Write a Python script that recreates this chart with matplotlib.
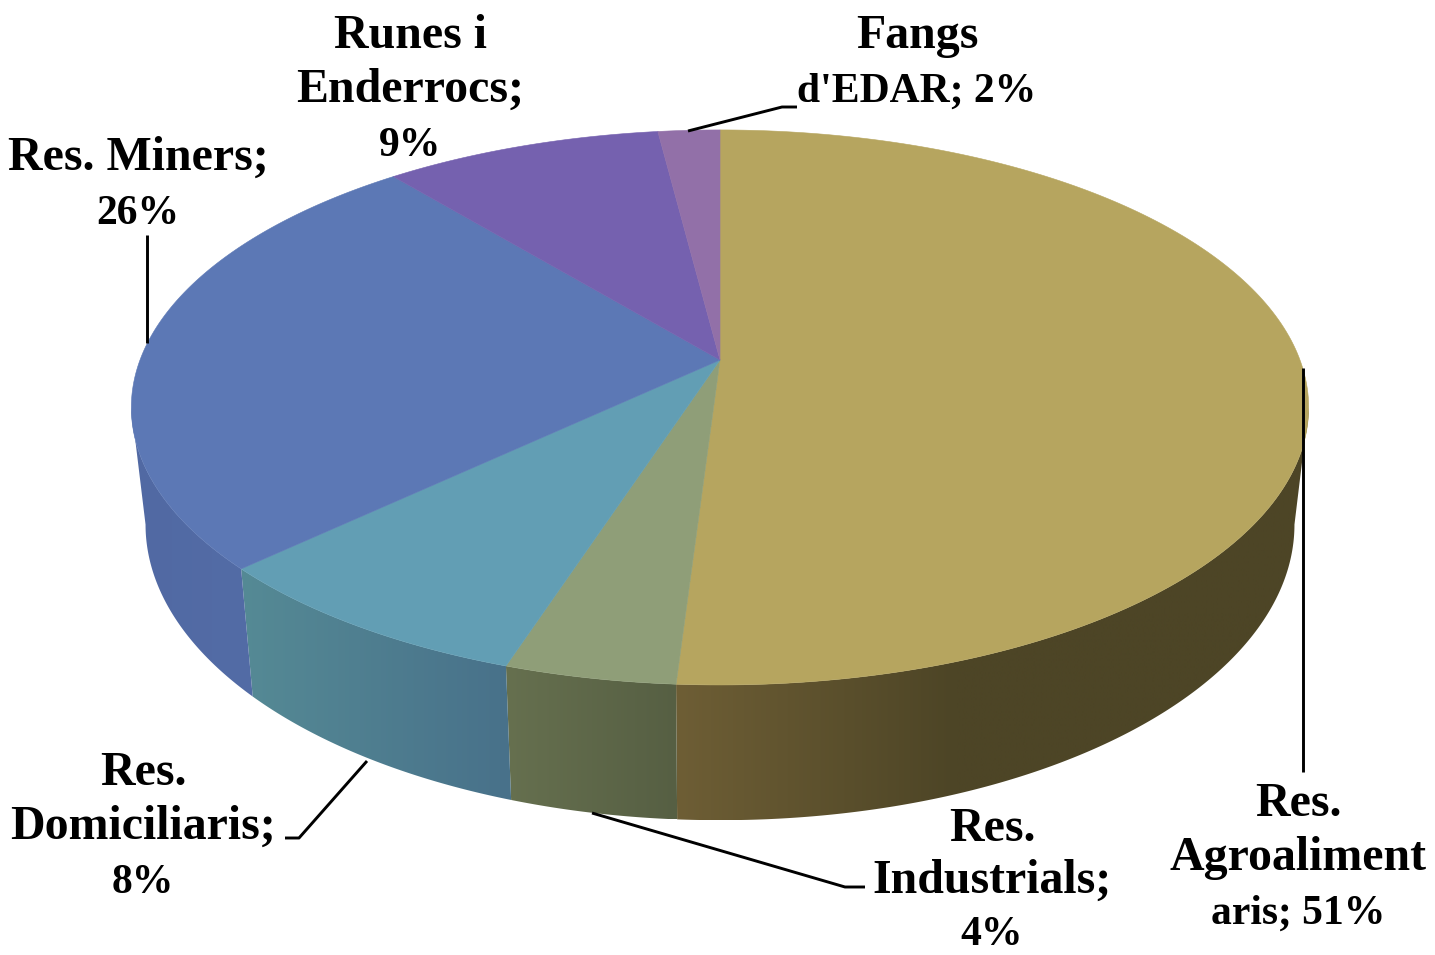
import numpy as np
import matplotlib
matplotlib.use("Agg")
import matplotlib.pyplot as plt
from matplotlib.patches import Polygon

categories = ["Res. Agroalimentaris", "Res. Industrials", "Res. Domiciliaris",
              "Res. Miners", "Runes i Enderrocs", "Fangs d'EDAR"]
values = [51, 4, 8, 26, 9, 2]
label_lines = [["Res.", "Agroaliment", "aris; {}%"],
               ["Res.", "Industrials;", "{}%"],
               ["Res.", "Domiciliaris;", "{}%"],
               ["Res. Miners;", "{}%"],
               ["Runes i", "Enderrocs;", "{}%"],
               ["Fangs", "d'EDAR; {}%"]]
top_colors = ["#B6A55F", "#8F9E78", "#629EB4", "#5C78B5", "#7561AF", "#9270A8"]
side_colors = [("#6E5E35", "#4D4526"), ("#66704F", "#565F43"), ("#558A95", "#48718A"),
               ("#5169A3", "#536CA6"), ("#5A4A90", "#5A4A90"), ("#70558A", "#70558A")]
side_fade = [0.44, 1, 1, 1, 1, 1]
label_anchors = [(1298, 816), (992, 841), (143, 785), (138, 170), (410, 48), (917, 48)]
line_steps = [54, 52, 54, 54, 54, 54]
leaders = [[(1303, 368), (1303, 772)],
           [(592, 813), (845, 887), (865, 887)],
           [(367, 761), (299, 838), (285, 838)],
           [(147, 343), (147, 235)],
           [(688, 131), (782, 107), (797, 107)]]

# perspective of the pie disc
K = 0.171
CX = 720
TOP_Y, TOP_AY, TOP_BX = 360, 269.4, 580
BOT_Y, BOT_AY, BOT_BX = 474, 287, 566


def project(theta, cy, ay, bx):
    x, y = np.sin(theta), np.cos(theta)
    d = 1 + K * y
    return CX + bx * x / d, cy - ay * y / d


plt.rcParams["font.family"] = ["Liberation Serif", "DejaVu Serif"]
fig = plt.figure(figsize=(14.35, 9.55), dpi=100, facecolor="white")
ax = fig.add_axes([0, 0, 1, 1])
ax.axis("off")

edges = np.cumsum([0] + values) / sum(values) * 2 * np.pi
# the wall is visible between the two silhouette angles of the perspective ellipse
sil = np.arccos(-K)

# side wall: one horizontal gradient per slice, clipped to the wall outline
for i, (a, b) in enumerate(zip(edges[:-1], edges[1:])):
    lo, hi = max(a, sil), min(b, 2 * np.pi - sil)
    if lo >= hi:
        continue
    th = np.linspace(lo, hi, 200)
    xt, yt = project(th, TOP_Y, TOP_AY, TOP_BX)
    xb, yb = project(th[::-1], BOT_Y, BOT_AY, BOT_BX)
    xs, ys = np.r_[xt, xb], np.r_[yt, yb]
    poly = Polygon(np.c_[xs, ys], closed=True, facecolor="none", edgecolor="none",
                   transform=ax.transData, zorder=2)
    ax.add_patch(poly)
    frac = np.clip(np.linspace(0, 1, 256) / side_fade[i], 0, 1)[:, None]
    c0 = np.array(matplotlib.colors.to_rgb(side_colors[i][0]))
    c1 = np.array(matplotlib.colors.to_rgb(side_colors[i][1]))
    grad = (c0 + (c1 - c0) * frac)[None, :, :]
    im = ax.imshow(grad, extent=(xs.min(), xs.max(), ys.max(), ys.min()),
                   aspect="auto", interpolation="bilinear", zorder=2)
    im.set_clip_path(poly)

# top face
for i, (a, b) in enumerate(zip(edges[:-1], edges[1:])):
    th = np.linspace(a, b, 200)
    x, y = project(th, TOP_Y, TOP_AY, TOP_BX)
    ax.fill(np.r_[CX, x], np.r_[TOP_Y, y], color=top_colors[i], lw=0.4, zorder=3)

for pts in leaders:
    xs, ys = zip(*pts)
    ax.plot(xs, ys, color="black", lw=2.1, zorder=4, solid_capstyle="butt")

for lines, v, (x, y), step in zip(label_lines, values, label_anchors, line_steps):
    for n, line in enumerate(lines):
        size = 30 if "{}" in line else 34.5
        ax.text(x, y + n * step, line.format(v), ha="center", va="baseline",
                fontsize=size, fontweight="bold", color="black", zorder=5)

ax.set_xlim(0, 1435)
ax.set_ylim(955, 0)
fig.savefig("out.png", dpi=100)
